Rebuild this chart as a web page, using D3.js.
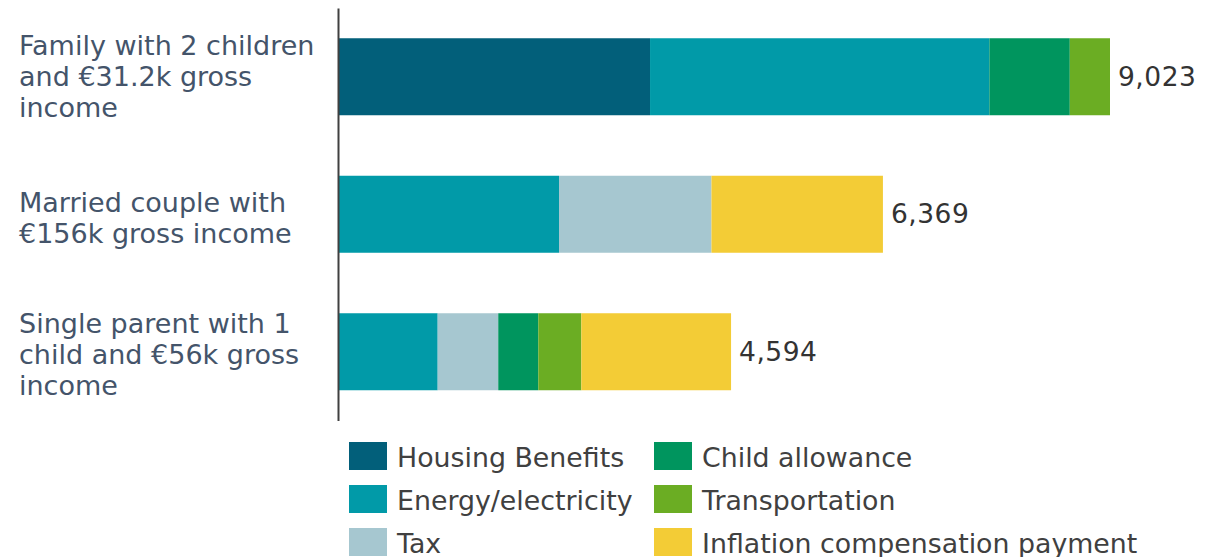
<!DOCTYPE html>
<html lang="en">
<head>
    <meta charset="UTF-8">
    <title>Relief measures by household</title>
    <script src="https://d3js.org/d3.v7.min.js"></script>
    <style>
        html, body {
            margin: 0;
            background: #fff;
            font-family: "DejaVu Sans", Verdana, sans-serif;
        }
    </style>
</head>
<body>
    <div id="vis"></div>

    <script>
        // data
        var households = [
            ["Family with 2 children", "and \u20ac31.2k gross", "income"],
            ["Married couple with", "\u20ac156k gross income"],
            ["Single parent with 1", "child and \u20ac56k gross", "income"]
        ];
        var householdKeys = ["family", "couple", "single"];
        var measures = ["Housing Benefits", "Energy/electricity", "Tax",
                        "Child allowance", "Transportation", "Inflation compensation payment"];
        var colours = ["#025f7a", "#019aa8", "#a6c7d0", "#00955e", "#6bad23", "#f3cc36"];

        // one array per household, in measure order
        var familyValues = [3647, 3966, 0, 940, 470, 0];
        var coupleValues = [0, 2583, 1782, 0, 0, 2004];
        var singleValues = [0, 1165, 708, 468, 503, 1750];
        var totals = [9023, 6369, 4594];

        var width = 1219, height = 557;

        var svg = d3.select("#vis").append("svg")
            .attr("width", width)
            .attr("height", height);

        var rows = [familyValues, coupleValues, singleValues].map(function(vals, i) {
            var r = {key: householdKeys[i]};
            measures.forEach(function(m, j) { r[m] = vals[j]; });
            return r;
        });

        var stack = d3.stack().keys(measures)(rows);

        var x = d3.scaleLinear()
            .domain([0, d3.max(totals)])
            .range([338, 1110]);

        var y = d3.scaleBand()
            .domain(householdKeys)
            .range([8, 420.5])
            .paddingInner(0.44)
            .paddingOuter(0.22);

        // bars
        svg.append("g").selectAll("g")
            .data(stack)
            .join("g")
                .attr("fill", function(d, i) { return colours[i]; })
            .selectAll("rect")
            .data(function(d) { return d.filter(function(s) { return s[1] > s[0]; }); })
            .join("rect")
                .attr("x", function(d) { return x(d[0]); })
                .attr("y", function(d) { return y(d.data.key); })
                .attr("width", function(d) { return x(d[1]) - x(d[0]); })
                .attr("height", y.bandwidth());

        // axis line on the left
        var axis = svg.append("g")
            .attr("transform", "translate(338,0)")
            .call(d3.axisLeft(y).tickSize(0).tickFormat(""));
        axis.select(".domain")
            .attr("stroke", "#404040")
            .attr("stroke-width", 2);

        // category labels
        var lineH = 31;
        svg.append("g").selectAll("text")
            .data(households)
            .join("text")
                .attr("fill", "#44546a")
                .attr("font-size", 27)
                .each(function(lines, i) {
                    var cy = y(householdKeys[i]) + y.bandwidth() / 2;
                    var shift = lines.length == 3 ? (i == 0 ? 9 : 12) : 13;
                    d3.select(this).selectAll("tspan")
                        .data(lines)
                        .join("tspan")
                            .attr("x", 19)
                            .attr("y", function(l, k) {
                                return cy + (k - (lines.length - 1) / 2) * lineH + shift;
                            })
                            .text(function(l) { return l; });
                });

        // totals
        svg.append("g").selectAll("text")
            .data(totals)
            .join("text")
                .attr("x", function(d) { return x(d) + 8; })
                .attr("y", function(d, i) { return y(householdKeys[i]) + y.bandwidth() / 2 + 9; })
                .attr("fill", "#333")
                .attr("font-size", 26.5)
                .attr("letter-spacing", 0.5)
                .text(function(d) { return d3.format(",")(d); });

        // legend, filled column by column
        var legend = svg.append("g").selectAll("g")
            .data(measures)
            .join("g")
                .attr("transform", function(d, i) {
                    var col = Math.floor(i / 3), row = i % 3;
                    return "translate(" + (349 + col * 305) + "," + (442 + row * 43) + ")";
                });
        legend.append("rect")
            .attr("width", 38)
            .attr("height", 28)
            .attr("fill", function(d, i) { return colours[i]; });
        legend.append("text")
            .attr("x", 48)
            .attr("y", 25)
            .attr("fill", "#404040")
            .attr("font-size", 26.8)
            .text(function(d) { return d; });
    </script>
</body>
</html>
